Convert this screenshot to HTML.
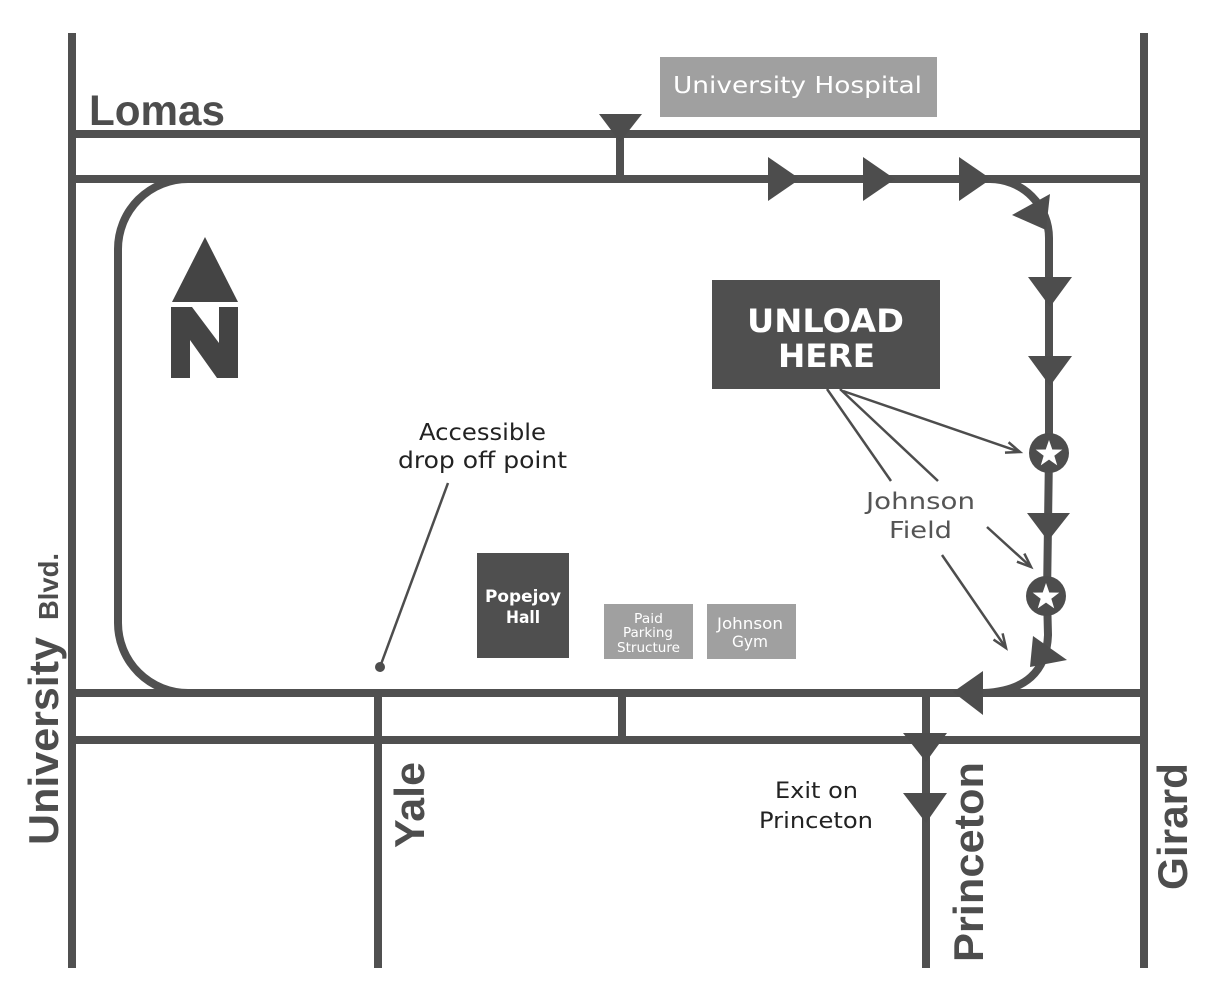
<!DOCTYPE html>
<html>
<head>
<meta charset="utf-8">
<style>
html,body{margin:0;padding:0;background:#fff;}
svg{display:block}
</style>
</head>
<body>
<svg width="1214" height="1008" viewBox="0 0 1214 1008" xmlns="http://www.w3.org/2000/svg">
<defs>
<marker id="ah" markerUnits="userSpaceOnUse" markerWidth="24" markerHeight="24" viewBox="-16 -12 20 24" refX="0" refY="0" orient="auto" overflow="visible">
<path d="M-14,-5.5 L0,0 L-14,5.5" fill="none" stroke="#4d4d4d" stroke-width="2.5" stroke-linejoin="miter"/>
</marker>
</defs>

<!-- roads -->
<g stroke="#505050" stroke-width="8" fill="none">
<line x1="72" y1="33" x2="72" y2="968"/>
<line x1="1144" y1="33" x2="1144" y2="968"/>
<line x1="72" y1="134" x2="1144" y2="134"/>
<line x1="72" y1="179" x2="1144" y2="179"/>
<line x1="72" y1="693" x2="1144" y2="693"/>
<line x1="72" y1="740" x2="1144" y2="740"/>
<line x1="378" y1="693" x2="378" y2="968"/>
<line x1="926" y1="693" x2="926" y2="968"/>
<line x1="620" y1="134" x2="620" y2="179"/>
<line x1="622" y1="693" x2="622" y2="740"/>
<path d="M188,179 A70,70 0 0 0 118,249 L118,623 A70,70 0 0 0 188,693"/>
<path d="M990,179 A59,59 0 0 1 1049,238 L1049,453 L1047,596 L1048,635 Q1046,690 984,693"/>
</g>

<!-- arrows -->
<g fill="#4d4d4d">
<polygon points="599,114 642,114 620,142"/>
<polygon points="768,157 768,201 800,179"/>
<polygon points="863,157 863,201 895,179"/>
<polygon points="959,157 959,201 991,179"/>
<polygon points="1012,215 1050,194 1046,230"/>
<polygon points="1028,277 1072,277 1050,307"/>
<polygon points="1028,356 1072,356 1050,386"/>
<polygon points="1027,513 1070,513 1048,541"/>
<polygon points="1033,636 1067,660 1030,667"/>
<polygon points="953,692 983,671 983,715"/>
<polygon points="903,733 947,733 926,762"/>
<polygon points="903,793 947,793 926,823"/>
</g>

<!-- stars -->
<g>
<circle cx="1049" cy="453" r="20" fill="#4d4d4d"/>
<polygon transform="translate(1049,454)" fill="#fff" points="0,-14 3.29,-4.53 13.31,-4.33 5.33,1.73 8.23,11.33 0,5.6 -8.23,11.33 -5.33,1.73 -13.31,-4.33 -3.29,-4.53"/>
<circle cx="1046" cy="596" r="20" fill="#4d4d4d"/>
<polygon transform="translate(1046,597)" fill="#fff" points="0,-14 3.29,-4.53 13.31,-4.33 5.33,1.73 8.23,11.33 0,5.6 -8.23,11.33 -5.33,1.73 -13.31,-4.33 -3.29,-4.53"/>
</g>

<!-- north arrow -->
<g fill="#444">
<polygon points="205,237 172,302 238,302"/>
<polygon points="171,307 192,307 219,343 219,307 238,307 238,378 217,378 190,340 190,378 171,378"/>
</g>

<!-- boxes -->
<rect x="660" y="57" width="277" height="60" fill="#a0a0a0"/>
<rect x="712" y="280" width="228" height="109" fill="#4f4f4f"/>
<rect x="477" y="553" width="92" height="105" fill="#4f4f4f"/>
<rect x="604" y="604" width="89" height="55" fill="#a0a0a0"/>
<rect x="707" y="604" width="89" height="55" fill="#a0a0a0"/>

<!-- pointer lines -->
<g stroke="#4d4d4d" stroke-width="2.5" fill="none">
<line x1="827" y1="389" x2="891" y2="481"/>
<line x1="840" y1="389" x2="938" y2="481"/>
<line x1="843" y1="391" x2="1020" y2="452" marker-end="url(#ah)"/>
<line x1="987" y1="527" x2="1031" y2="567" marker-end="url(#ah)"/>
<line x1="942" y1="555" x2="1006" y2="648" marker-end="url(#ah)"/>
<line x1="448" y1="483" x2="380" y2="667"/>
</g>
<circle cx="380" cy="667" r="5" fill="#4d4d4d"/>

<!-- bold street labels -->
<g font-family="'Liberation Sans', sans-serif" font-weight="bold" fill="#4d4d4d">
<text x="89" y="125" font-size="43" textLength="136" lengthAdjust="spacingAndGlyphs">Lomas</text>
<text transform="translate(58,845) rotate(-90)" font-size="42" textLength="208" lengthAdjust="spacingAndGlyphs">University</text>
<text transform="translate(58,620) rotate(-90)" font-size="28" textLength="67" lengthAdjust="spacingAndGlyphs">Blvd.</text>
<text transform="translate(424,848) rotate(-90)" font-size="42" textLength="86" lengthAdjust="spacingAndGlyphs">Yale</text>
<text transform="translate(983,962) rotate(-90)" font-size="42" textLength="200" lengthAdjust="spacingAndGlyphs">Princeton</text>
<text transform="translate(1187,890) rotate(-90)" font-size="42" textLength="127" lengthAdjust="spacingAndGlyphs">Girard</text>
</g>

<!-- box labels -->
<g font-family="'DejaVu Sans', 'Liberation Sans', sans-serif" fill="#fff">
<text x="673" y="93" font-size="23" textLength="249" lengthAdjust="spacingAndGlyphs">University Hospital</text>
<text x="747" y="332" font-size="32" font-weight="bold" textLength="157" lengthAdjust="spacingAndGlyphs">UNLOAD</text>
<text x="778" y="367" font-size="32" font-weight="bold" textLength="97" lengthAdjust="spacingAndGlyphs">HERE</text>
<text x="485" y="602" font-size="17" font-weight="bold" textLength="76" lengthAdjust="spacingAndGlyphs">Popejoy</text>
<text x="506" y="623" font-size="17" font-weight="bold" textLength="34" lengthAdjust="spacingAndGlyphs">Hall</text>
<text x="634" y="623" font-size="13" textLength="29" lengthAdjust="spacingAndGlyphs">Paid</text>
<text x="623" y="637" font-size="13" textLength="50" lengthAdjust="spacingAndGlyphs">Parking</text>
<text x="617" y="652" font-size="13" textLength="63" lengthAdjust="spacingAndGlyphs">Structure</text>
<text x="717" y="629" font-size="16" textLength="66" lengthAdjust="spacingAndGlyphs">Johnson</text>
<text x="732" y="647" font-size="16" textLength="36" lengthAdjust="spacingAndGlyphs">Gym</text>
</g>

<!-- annotation text -->
<g font-family="'DejaVu Sans', 'Liberation Sans', sans-serif" fill="#222">
<text x="419" y="440" font-size="23" textLength="127" lengthAdjust="spacingAndGlyphs">Accessible</text>
<text x="398" y="468" font-size="23" textLength="169" lengthAdjust="spacingAndGlyphs">drop off point</text>
<text x="775" y="798" font-size="22" textLength="83" lengthAdjust="spacingAndGlyphs">Exit on</text>
<text x="759" y="828" font-size="22" textLength="114" lengthAdjust="spacingAndGlyphs">Princeton</text>
<text x="866" y="509" font-size="23" fill="#555" textLength="109" lengthAdjust="spacingAndGlyphs">Johnson</text>
<text x="889" y="538" font-size="23" fill="#555" textLength="63" lengthAdjust="spacingAndGlyphs">Field</text>
</g>
</svg>
</body>
</html>
